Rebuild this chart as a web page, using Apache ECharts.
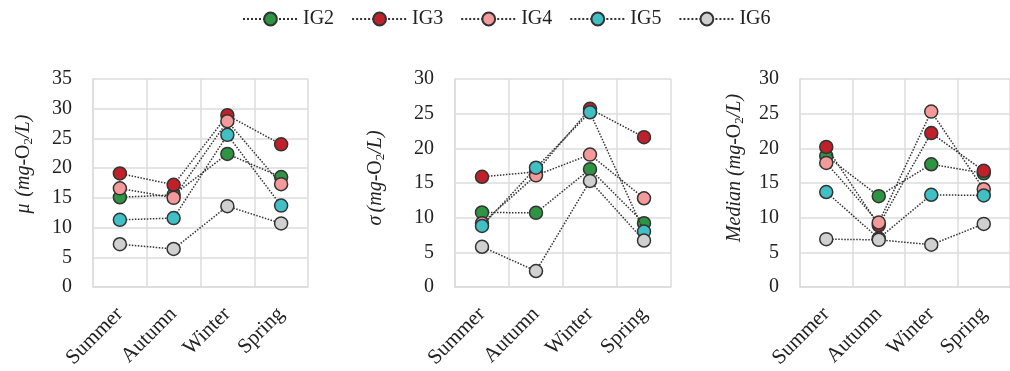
<!DOCTYPE html>
<html>
<head>
<meta charset="utf-8">
<style>
  html, body { margin: 0; padding: 0; background: #fff; }
  #chart { width: 1010px; height: 371px; }
</style>
<script src="https://cdn.jsdelivr.net/npm/echarts@6/dist/echarts.min.js"></script>
</head>
<body>
<div id="chart"></div>
<script>
// Seasons on the x axis
const seasons = ['Summer', 'Autumn', 'Winter', 'Spring'];
const groups = ['IG2', 'IG3', 'IG4', 'IG5', 'IG6'];

// Mean (mg-O2/L) per group, by season
const meanIG2 = [15.1, 15.5, 22.4, 18.5];
const meanIG3 = [19.1, 17.2, 28.9, 24.0];
const meanIG4 = [16.6, 15.0, 27.9, 17.3];
const meanIG5 = [11.3, 11.6, 25.6, 13.7];
const meanIG6 = [7.2, 6.4, 13.6, 10.7];

// Standard deviation (mg-O2/L)
const sdIG2 = [10.75, 10.7, 17.0, 9.2];
const sdIG3 = [15.9, 16.6, 25.7, 21.6];
const sdIG4 = [9.2, 16.1, 19.1, 12.8];
const sdIG5 = [8.8, 17.2, 25.2, 8.0];
const sdIG6 = [5.8, 2.3, 15.3, 6.7];

// Median (mg-O2/L)
const medIG2 = [18.9, 13.1, 17.7, 16.4];
const medIG3 = [20.2, 8.9, 22.2, 16.75];
const medIG4 = [17.9, 9.3, 25.3, 14.1];
const medIG5 = [13.7, 7.0, 13.3, 13.2];
const medIG6 = [6.9, 6.8, 6.1, 9.1];

const yMax = [35, 30, 30];
const yInterval = 5;

const colors = ['#2e9444', '#c0202a', '#f49a9a', '#40c0c4', '#d0d0d0'];
const panels = [
  [meanIG2, meanIG3, meanIG4, meanIG5, meanIG6],
  [sdIG2, sdIG3, sdIG4, sdIG5, sdIG6],
  [medIG2, medIG3, medIG4, medIG5, medIG6]
];

const FONT = 'Liberation Serif';
const gridColor = '#dcdcdc';

const gridLayout = [
  { left: 93, top: 79, width: 215, height: 208 },
  { left: 455, top: 79, width: 216, height: 208 },
  { left: 800, top: 79, width: 216, height: 208 }
];

const richName = {
  i: { fontFamily: FONT, fontStyle: 'italic', fontSize: 20, color: '#222' },
  p: { fontFamily: FONT, fontSize: 20, color: '#222' },
  s: { fontFamily: FONT, fontSize: 13, color: '#222', padding: [9, 0, 0, 0] }
};

const axisNames = [
  '{i|μ}  {i|(mg}{p|-O}{s|2}{i|/L)}',
  '{i|σ} {i|(mg}{p|-O}{s|2}{i|/L)}',
  '{i|Median (mg}{p|-O}{s|2}{i|/L)}'
];
const nameGaps = [58, 68, 54];
const namePads = [[0, 0, 0, 38], [0, 0, 0, 10], [0, 0, 0, 30]];

const xAxes = gridLayout.map((g, k) => ({
  type: 'category',
  gridIndex: k,
  data: seasons,
  boundaryGap: true,
  axisLine: { lineStyle: { color: gridColor, width: 1.5 } },
  axisTick: { show: false },
  splitLine: { show: true, lineStyle: { color: gridColor, width: 1.5 } },
  axisLabel: {
    rotate: 45,
    margin: 24,
    interval: 0,
    fontFamily: FONT,
    fontSize: 21,
    color: '#222'
  }
}));

const yAxes = gridLayout.map((g, k) => ({
  type: 'value',
  gridIndex: k,
  min: 0,
  max: yMax[k],
  interval: yInterval,
  axisLine: { show: true, lineStyle: { color: gridColor, width: 1.5 } },
  axisTick: { show: false },
  splitLine: { show: true, lineStyle: { color: gridColor, width: 1.5 } },
  axisLabel: { margin: 21, fontFamily: FONT, fontSize: 20, color: '#222' },
  name: axisNames[k],
  nameLocation: 'middle',
  nameGap: nameGaps[k],
  nameTextStyle: { rich: richName, padding: namePads[k] }
}));

const series = [];
panels.forEach((panel, k) => {
  panel.forEach((values, j) => {
    series.push({
      name: groups[j],
      type: 'line',
      xAxisIndex: k,
      yAxisIndex: k,
      data: values,
      symbol: 'circle',
      symbolSize: 13,
      z: 2 + j,
      lineStyle: { color: '#333', width: 1.5, type: 'dotted' },
      itemStyle: { color: colors[j], borderColor: '#333', borderWidth: 1.5 },
      emphasis: { disabled: true },
      animation: false
    });
  });
});

const chart = echarts.init(document.getElementById('chart'), null, { renderer: 'canvas' });
chart.setOption({
  backgroundColor: '#fff',
  animation: false,
  legend: {
    data: groups,
    left: 237,
    top: 4,
    itemWidth: 55,
    itemHeight: 16,
    itemGap: 17,
    textStyle: { fontFamily: FONT, fontSize: 20, color: '#222' }
  },
  grid: gridLayout,
  xAxis: xAxes,
  yAxis: yAxes,
  series: series
});
</script>
</body>
</html>
